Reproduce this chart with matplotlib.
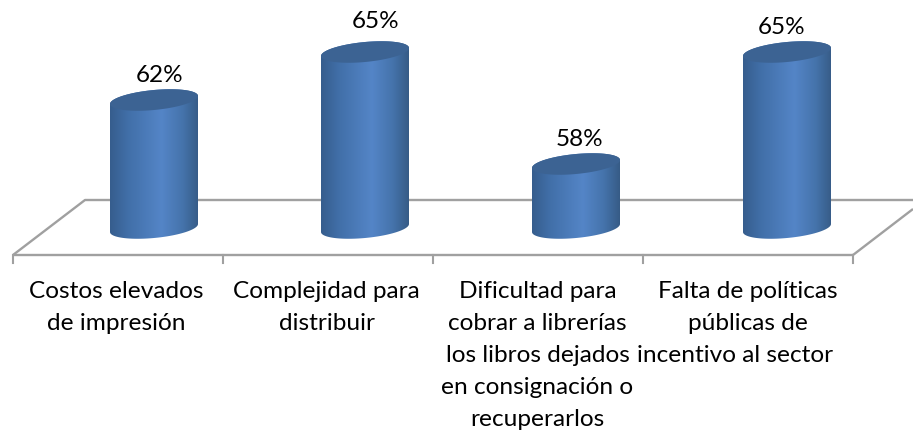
import matplotlib
matplotlib.use('Agg')
import matplotlib.pyplot as plt
from matplotlib.colors import LinearSegmentedColormap
from matplotlib.patches import Polygon
import numpy as np

# valores
categorias = [
    ['Costos elevados', 'de impresión'],
    ['Complejidad para', 'distribuir'],
    ['Dificultad para', 'cobrar a librerías', 'los libros dejados', 'en consignación o', 'recuperarlos'],
    ['Falta de políticas', 'públicas de', 'incentivo al sector'],
]
valores = [62, 65, 58, 65]
etiquetas = ['62%', '65%', '58%', '65%']

# geometria en pixeles de la figura
W, H = 913, 436
PX_CAT = 210.0     # ancho de cada categoria
PX_VAL = 16.0      # pixeles por punto porcentual
X0_PX = 118.0      # centro de la primera categoria
BASE_PX = 232.0    # altura donde empieza el eje de valores
BASE_VAL = 54.0

plt.rcParams['font.family'] = ['Lato', 'DejaVu Sans']

fig = plt.figure(figsize=(W / 100, H / 100), dpi=100)
ax = fig.add_axes([0, 0, 1, 1])
ax.axis('off')


def px(x, y):
    # pixeles de la imagen -> datos
    return (x - X0_PX) / PX_CAT, BASE_VAL + (BASE_PX - y) / PX_VAL


# piso 3D
gris = '#a0a0a0'
piso = [[(13, 255), (853, 255)], [(13, 255), (85, 200), (913, 200)], [(853, 255), (913, 209)]]
for seg in piso:
    pts = np.array([px(*p) for p in seg])
    ax.plot(pts[:, 0], pts[:, 1], color=gris, lw=1.7, zorder=1, solid_capstyle='butt')
for i in range(len(valores) + 1):
    tx, ty0 = px(13 + i * PX_CAT, 255)
    _, ty1 = px(0, 263)
    ax.plot([tx, tx], [ty0, ty1], color=gris, lw=1.5, zorder=1)

# cilindros
cmap = LinearSegmentedColormap.from_list('cil', [
    (0.0, '#365d8d'), (0.2, '#416fa8'), (0.58, '#5485c7'), (0.82, '#4573ab'), (1.0, '#365b86')])
grad = np.linspace(0, 1, 256).reshape(1, -1)
A = 44.0 / PX_CAT            # semi-ancho
B = 10.0 / PX_VAL            # semi-alto de la elipse
TILT = 4.0 / PX_VAL          # inclinacion de la elipse
DX = 36.0 / PX_CAT           # desplazamiento por profundidad
PASO = 211.0 / PX_CAT        # las barras van un poco mas separadas que las marcas
t = np.linspace(0, 2 * np.pi, 181)

centros = []
for i, v in enumerate(valores):
    cx = i * PASO + DX
    centros.append(cx)
    y_top = v + TILT
    y_bot = BASE_VAL + TILT
    ex = A * np.cos(t)
    ey = B * np.sin(t) + TILT * np.cos(t)

    low = t >= np.pi
    cuerpo = np.vstack([
        np.column_stack([cx + ex[:91], y_top + ey[:91]]),
        np.column_stack([cx + ex[low], y_bot + ey[low]]),
    ])
    clip = Polygon(cuerpo, closed=True, transform=ax.transData, facecolor='none', edgecolor='none')
    ax.add_patch(clip)
    im = ax.imshow(grad, cmap=cmap, aspect='auto', zorder=2,
                   extent=[cx - A, cx + A, y_bot - 2, y_top + 2])
    im.set_clip_path(clip)
    ax.fill(cx + ex, y_top + ey, color='#3c6393', lw=0, zorder=3)

ax.set_xlim(-X0_PX / PX_CAT, (W - X0_PX) / PX_CAT)
ax.set_ylim(BASE_VAL - (H - BASE_PX) / PX_VAL, BASE_VAL + BASE_PX / PX_VAL)

# etiquetas de datos
off_etq = [(6, 22), (11, 28), (3, 22), (-5, 22)]
for i, (v, e) in enumerate(zip(valores, etiquetas)):
    ax.annotate(e, xy=(centros[i], v), xytext=off_etq[i], textcoords='offset pixels',
                ha='center', va='baseline', fontsize=17.5, color='black', zorder=4)

# categorias, linea por linea
off_lineas = {(0, 0): -1, (0, 1): -1, (1, 0): -1, (1, 1): -1, (3, 2): -12}
for i, lineas in enumerate(categorias):
    for j, linea in enumerate(lineas):
        x, y = px(X0_PX + i * PX_CAT + off_lineas.get((i, j), 0) - 0.5, 298 + j * 32)
        ax.text(x, y, linea, ha='center', va='baseline', fontsize=17.6, color='black')

plt.savefig('out.png', dpi=100)
